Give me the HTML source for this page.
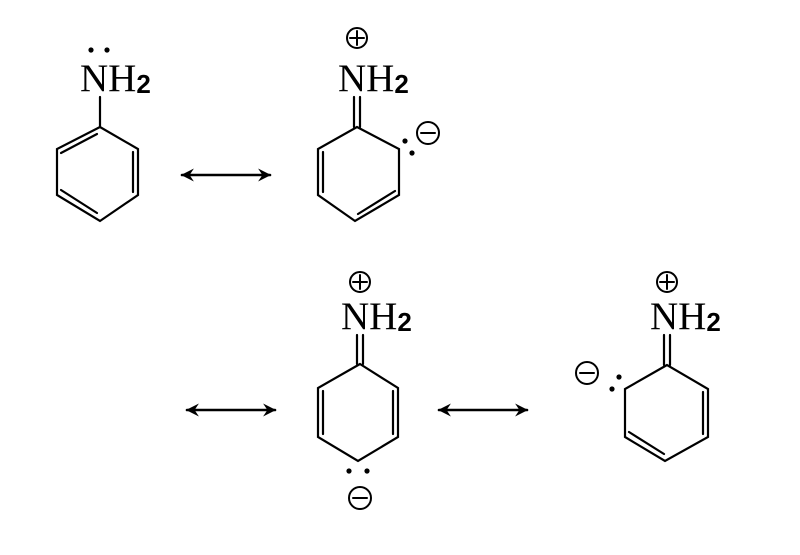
<!DOCTYPE html>
<html><head><style>body{margin:0;background:#fff}svg{display:block}</style></head><body>
<svg width="800" height="555" viewBox="0 0 800 555" xmlns="http://www.w3.org/2000/svg">
<defs>
<marker id="ah" viewBox="0 0 12 12" refX="11" refY="6" markerWidth="13" markerHeight="13" orient="auto-start-reverse" markerUnits="userSpaceOnUse">
<path d="M0,0 L12,6 L0,12 L4,6 Z" fill="#000"/></marker>
</defs>
<g stroke="#000" stroke-width="2.2" fill="none" stroke-linecap="round">
<path d="M100,127 L57,149 L57,195 L100,221 L138,195 L138,149 Z"/>
<line x1="100" y1="97" x2="100" y2="127"/>
<line x1="97" y1="134" x2="61" y2="153"/>
<line x1="133" y1="152" x2="133" y2="192"/>
<line x1="61" y1="190" x2="97" y2="213"/>
<path d="M357,127 L318,149 L318,195 L355,221 L399,195 L399,149 Z"/>
<line x1="354" y1="97" x2="354" y2="127"/>
<line x1="360" y1="97" x2="360" y2="127"/>
<line x1="323" y1="152" x2="323" y2="192"/>
<line x1="358" y1="214" x2="395" y2="191"/>
<path d="M360,364 L318,388 L318,437 L358,461 L398,437 L398,388 Z"/>
<line x1="357" y1="335" x2="357" y2="364"/>
<line x1="363" y1="335" x2="363" y2="364"/>
<line x1="323" y1="391" x2="323" y2="434"/>
<line x1="393" y1="391" x2="393" y2="434"/>
<path d="M667,365 L625,389 L625,437 L665,461 L708,437 L708,389 Z"/>
<line x1="664" y1="335" x2="664" y2="365"/>
<line x1="670" y1="335" x2="670" y2="365"/>
<line x1="703" y1="392" x2="703" y2="434"/>
<line x1="629" y1="432" x2="664" y2="454"/>
<g stroke-width="2.6">
<line x1="182" y1="175" x2="270" y2="175" marker-start="url(#ah)" marker-end="url(#ah)"/>
<line x1="187" y1="410" x2="275" y2="410" marker-start="url(#ah)" marker-end="url(#ah)"/>
<line x1="439" y1="410" x2="527" y2="410" marker-start="url(#ah)" marker-end="url(#ah)"/>
</g>
<g stroke-width="2">
<circle cx="357" cy="38" r="10"/><path d="M350,38 H364 M357,31 V45"/>
<circle cx="428" cy="133" r="11"/><path d="M421,133 H435"/>
<circle cx="360" cy="282" r="10"/><path d="M353,282 H367 M360,275 V289"/>
<circle cx="360" cy="498" r="11"/><path d="M353,498 H367"/>
<circle cx="667" cy="282" r="10"/><path d="M660,282 H674 M667,275 V289"/>
<circle cx="587" cy="373" r="11"/><path d="M580,373 H594"/>
</g>
</g>
<g fill="#000">
<circle cx="91" cy="50" r="2.6"/><circle cx="107" cy="50" r="2.6"/>
<circle cx="405" cy="141" r="2.6"/><circle cx="412" cy="153" r="2.6"/>
<circle cx="349" cy="471" r="2.6"/><circle cx="367" cy="471" r="2.6"/>
<circle cx="619" cy="377" r="2.6"/><circle cx="612" cy="389" r="2.6"/>
</g>
<g font-family="Liberation Serif, serif" font-size="39" fill="#000">
<text x="80" y="91">NH<tspan font-size="26" font-weight="bold" font-family="Liberation Sans, sans-serif" dy="2">2</tspan></text>
<text x="338" y="91">NH<tspan font-size="26" font-weight="bold" font-family="Liberation Sans, sans-serif" dy="2">2</tspan></text>
<text x="341" y="329">NH<tspan font-size="26" font-weight="bold" font-family="Liberation Sans, sans-serif" dy="2">2</tspan></text>
<text x="650" y="329">NH<tspan font-size="26" font-weight="bold" font-family="Liberation Sans, sans-serif" dy="2">2</tspan></text>
</g>
</svg>
</body></html>
